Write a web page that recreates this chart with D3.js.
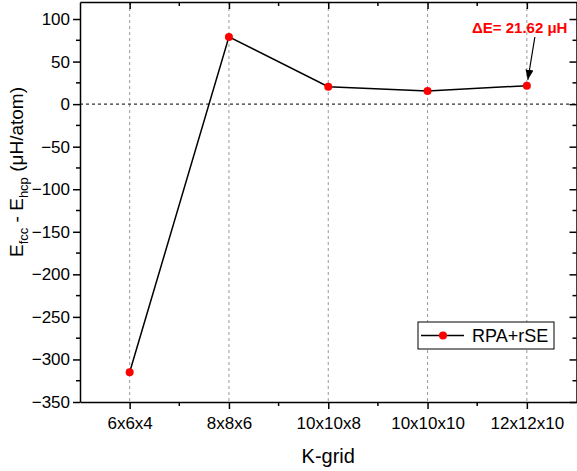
<!DOCTYPE html>
<html>
<head>
<meta charset="utf-8">
<script src="https://cdn.jsdelivr.net/npm/d3@7"></script>
<style>
  body { margin: 0; background: #fff; }
  svg { display: block; font-family: "Liberation Sans", Arial, sans-serif; }
</style>
</head>
<body>
<div id="chart"></div>
<script>
"use strict";

// K-grid categories and the energy difference at each grid
var grids = ["6x6x4", "8x8x6", "10x10x8", "10x10x10", "12x12x10"];
var deltaE = [-315, 79, 20.5, 15.5, 21.62];
var yTicks = [100, 50, 0, -50, -100, -150, -200, -250, -300, -350];
var seriesName = "RPA+rSE";

(function () {
  var width = 577,
      height = 471,
      margin = { top: 2, right: 0.5, bottom: 69, left: 80 };

  var svg = d3.select("#chart").append("svg")
    .attr("width", width)
    .attr("height", height);

  var x = d3.scaleLinear().domain([-0.5, grids.length - 0.5])
    .range([margin.left, width - margin.right]);
  var y = d3.scaleLinear().domain([-350, 120])
    .range([height - margin.bottom, margin.top]);

  var x0 = x.range()[0], x1 = x.range()[1],
      y0 = y.range()[0], y1 = y.range()[1];

  // vertical grid lines at each category
  svg.append("g").selectAll("line").data(grids).join("line")
    .attr("x1", (d, i) => x(i)).attr("x2", (d, i) => x(i))
    .attr("y1", y1).attr("y2", y0)
    .attr("stroke", "#999").attr("stroke-width", 1)
    .attr("stroke-dasharray", "3,3");

  // zero line
  svg.append("line")
    .attr("x1", x0).attr("x2", x1)
    .attr("y1", y(0)).attr("y2", y(0))
    .attr("stroke", "#333").attr("stroke-width", 1.2)
    .attr("stroke-dasharray", "3,3");

  var minorX = d3.range(0.5, grids.length - 0.5, 1);
  var minorY = d3.range(-325, 120, 50);

  // bottom axis
  var axBottom = svg.append("g").attr("transform", `translate(0,${y0})`)
    .call(d3.axisBottom(x).tickValues(d3.range(grids.length))
      .tickFormat(i => grids[i]).tickSize(7).tickSizeOuter(0).tickPadding(8));
  axBottom.selectAll(".tick text").attr("font-size", 17).attr("fill", "#000");
  axBottom.selectAll(".m").data(minorX).join("line").attr("class", "m")
    .attr("x1", d => x(d)).attr("x2", d => x(d)).attr("y1", 0).attr("y2", 4);

  // top axis, ticks pointing inward
  var axTop = svg.append("g").attr("transform", `translate(0,${y1})`)
    .call(d3.axisBottom(x).tickValues(d3.range(grids.length))
      .tickFormat("").tickSize(7).tickSizeOuter(0));
  axTop.selectAll(".m").data(minorX).join("line").attr("class", "m")
    .attr("x1", d => x(d)).attr("x2", d => x(d)).attr("y1", 0).attr("y2", 4);

  // left axis
  var axLeft = svg.append("g").attr("transform", `translate(${x0},0)`)
    .call(d3.axisLeft(y).tickValues(yTicks).tickSize(7).tickSizeOuter(0).tickPadding(3));
  axLeft.selectAll(".tick text").attr("font-size", 17).attr("fill", "#000");
  axLeft.selectAll(".m").data(minorY).join("line").attr("class", "m")
    .attr("x1", 0).attr("x2", -4).attr("y1", d => y(d)).attr("y2", d => y(d));

  // right axis, ticks pointing inward
  var axRight = svg.append("g").attr("transform", `translate(${x1},0)`)
    .call(d3.axisLeft(y).tickValues(yTicks).tickFormat("").tickSize(7).tickSizeOuter(0));
  axRight.selectAll(".m").data(minorY).join("line").attr("class", "m")
    .attr("x1", 0).attr("x2", -4).attr("y1", d => y(d)).attr("y2", d => y(d));

  [axBottom, axTop, axLeft, axRight].forEach(function (g) {
    g.select(".domain").attr("stroke", "#000").attr("stroke-width", 1.5);
    g.selectAll(".tick line, .m").attr("stroke", "#000").attr("stroke-width", 1.5);
  });

  // data line + markers
  var line = d3.line().x((d, i) => x(i)).y(d => y(d));
  svg.append("path").datum(deltaE)
    .attr("d", line).attr("fill", "none")
    .attr("stroke", "#000").attr("stroke-width", 1.5);
  svg.append("g").selectAll("circle").data(deltaE).join("circle")
    .attr("cx", (d, i) => x(i)).attr("cy", d => y(d)).attr("r", 4)
    .attr("fill", "#ff0000");

  // annotation arrow
  svg.append("defs").append("marker")
    .attr("id", "arrow").attr("viewBox", "0 0 10 10")
    .attr("refX", 10).attr("refY", 5)
    .attr("markerWidth", 10).attr("markerHeight", 10)
    .attr("markerUnits", "userSpaceOnUse")
    .attr("orient", "auto")
    .append("path").attr("d", "M0,1 L10,5 L0,9 Z").attr("fill", "#000");

  var last = deltaE.length - 1;
  svg.append("line")
    .attr("x1", x(last) + 8).attr("y1", 37)
    .attr("x2", x(last) + 1).attr("y2", y(deltaE[last]) - 6)
    .attr("stroke", "#000").attr("stroke-width", 1.2)
    .attr("marker-end", "url(#arrow)");
  svg.append("text")
    .attr("x", 472).attr("y", 33)
    .attr("font-size", 15).attr("font-weight", "bold").attr("fill", "#ff0000")
    .text("\u0394E= " + deltaE[last].toFixed(2) + " \u03bcH");

  // legend
  var legend = svg.append("g").attr("transform", "translate(418,322)");
  legend.append("rect").attr("width", 136).attr("height", 27)
    .attr("fill", "#fff").attr("stroke", "#000").attr("stroke-width", 1);
  legend.append("line").attr("x1", 3).attr("x2", 46).attr("y1", 13.5).attr("y2", 13.5)
    .attr("stroke", "#000").attr("stroke-width", 1.5);
  legend.append("circle").attr("cx", 25).attr("cy", 13.5).attr("r", 4).attr("fill", "#ff0000");
  legend.append("text").attr("x", 54).attr("y", 20)
    .attr("font-size", 18).attr("fill", "#000").text(seriesName);

  // axis titles
  svg.append("text")
    .attr("x", (x0 + x1) / 2).attr("y", 463)
    .attr("text-anchor", "middle").attr("font-size", 20).text("K-grid");

  var ylab = svg.append("text")
    .attr("transform", "translate(23,172) rotate(-90)")
    .attr("text-anchor", "middle").attr("font-size", 19);
  ylab.append("tspan").text("E");
  ylab.append("tspan").attr("font-size", 13).attr("dy", 5).text("fcc");
  ylab.append("tspan").attr("dy", -5).text(" - E");
  ylab.append("tspan").attr("font-size", 13).attr("dy", 5).text("hcp");
  ylab.append("tspan").attr("dy", -5).text(" (\u03bcH/atom)");
})();
</script>
</body>
</html>
